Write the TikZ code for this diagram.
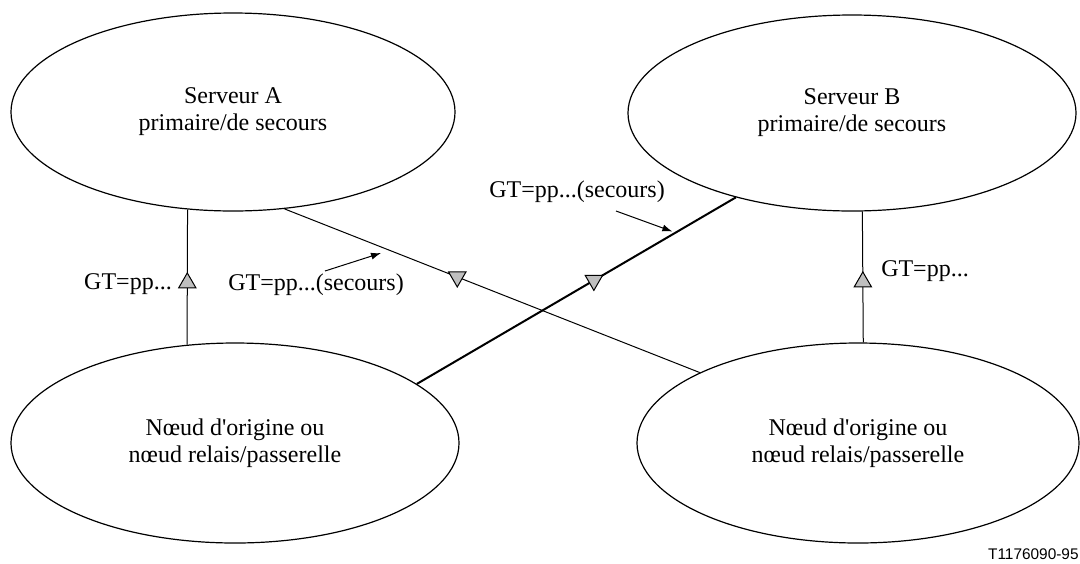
\documentclass[tikz,border=0pt]{standalone}
\usepackage{fontspec}
\setmainfont{Liberation Serif}
\newfontfamily\refsans{Liberation Sans}
\usetikzlibrary{arrows.meta,%
                shapes.geometric}
\tikzstyle{serveur}=[ellipse, draw, line width=0.6pt, inner sep=0pt, align=center, font=\fontsize{12}{13.5}\selectfont]
\tikzstyle{origine}=[serveur]
\tikzstyle{lien}=[line width=0.5pt]
\tikzstyle{tri}=[regular polygon, regular polygon sides=3, draw, line width=0.5pt, fill=black!25, minimum size=10pt, inner sep=0pt]
\tikzstyle{triup}=[tri]
\tikzstyle{tridown}=[tri, shape border rotate=180]
\tikzstyle{etiq}=[inner sep=0pt, font=\fontsize{12}{13.5}\selectfont]
\tikzstyle{renvoi}=[-{Latex[length=5pt,width=3.5pt]}, line width=0.5pt]

\begin{document}
\begin{tikzpicture}[x=0.5pt,y=-0.5pt]
  \useasboundingbox (0,0) rectangle (1080,563);
  \node[serveur, minimum width=222pt, minimum height=99pt] (srvA) at (233,112) {Serveur A\\primaire/de secours};
  \node[serveur, minimum width=224pt, minimum height=98pt] (srvB) at (852,113) {Serveur B\\primaire/de secours};
  \node[origine, minimum width=224pt, minimum height=100pt] (orgA) at (235,443) {N\oe ud d\textquotesingle origine ou\\n\oe ud relais/passerelle};
  \node[origine, minimum width=221pt, minimum height=100pt] (orgB) at (858,443) {N\oe ud d\textquotesingle origine ou\\n\oe ud relais/passerelle};

  \draw[lien] (orgA.116) -- node[pos=0.457, triup] (tA) {} (srvA.245);
  \draw[lien] (orgB.87) -- node[pos=0.462, triup] (tB) {} (srvB.276);
  \draw[lien] (srvA.298) -- node[pos=0.416, tridown] (tAB) {} coordinate[pos=0.253] (visA) (orgB.156);
  \draw[line width=1pt] (orgA.18) -- node[pos=0.555, tridown] (tBA) {} coordinate[pos=0.811] (visB) (srvB.216);

  \node[etiq] (gtA) at (128,284) {GT=pp...};
  \node[etiq] (gtB) at (925,271) {GT=pp...};
  \node[etiq] (secA) at (316,285) {GT=pp...(secours)};
  \node[etiq] (secB) at (577,192) {GT=pp...(secours)};
  \coordinate (depA) at (325,271);
  \coordinate (depB) at (616,211);
  \draw[renvoi, shorten >=4.5pt] (depA) -- (visA);
  \draw[renvoi, shorten >=1.7pt] (depB) -- (visB);

  \node[inner sep=0pt, anchor=base east, font=\refsans\fontsize{7.7}{9}\selectfont] (ref) at (1079,559) {T1176090-95};
\end{tikzpicture}
\end{document}
